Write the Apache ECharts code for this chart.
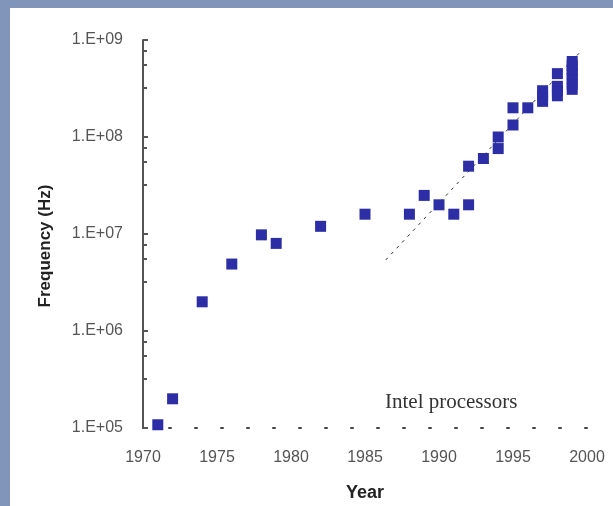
<!DOCTYPE html>
<html>
<head>
<meta charset="utf-8">
<script src="https://cdn.jsdelivr.net/npm/echarts@6/dist/echarts.min.js"></script>
<style>
  html, body { margin: 0; padding: 0; width: 613px; height: 506px; overflow: hidden; background: #8195bb; }
  #panel { position: absolute; left: 10px; top: 8px; width: 603px; height: 498px; background: #ffffff; }
  #chart { position: absolute; left: 0; top: 0; width: 613px; height: 506px; }
</style>
</head>
<body>
<div id="panel"></div>
<div id="chart"></div>
<script>
// Intel processors: year and clock frequency (Hz)
const years = [1971, 1972, 1974, 1976, 1978, 1979, 1982, 1985, 1988, 1989, 1990, 1991, 1992, 1992, 1993, 1994, 1994, 1995, 1995, 1996,
               1997, 1997, 1997, 1998, 1998, 1998, 1998, 1999, 1999, 1999, 1999, 1999, 1999, 1999];
const freqs = [1.08e5, 2e5, 2e6, 4.9e6, 9.8e6, 8e6, 1.2e7, 1.6e7, 1.6e7, 2.5e7, 2e7, 1.6e7, 2e7, 5e7, 6e7, 7.6e7, 1e8, 1.33e8, 2e8, 2e8,
               2.33e8, 2.66e8, 3e8, 2.66e8, 3e8, 3.33e8, 4.5e8, 3.1e8, 3.5e8, 4e8, 4.5e8, 5e8, 5.5e8, 6e8];
// trend line end points
const trendYears = [1986.4, 1999.5];
const trendFreqs = [5.4e6, 7.4e8];
const xTicks = [1970, 1975, 1980, 1985, 1990, 1995, 2000];
const yTickLabels = ['1.E+05', '1.E+06', '1.E+07', '1.E+08', '1.E+09'];

const chart = echarts.init(document.getElementById('chart'), null, { renderer: 'canvas' });
const labelFont = { color: '#555', fontSize: 16, fontFamily: 'Liberation Sans, Arial, sans-serif' };

chart.setOption({
  backgroundColor: 'transparent',
  animation: false,
  grid: { left: 143, right: 26, top: 40, bottom: 78, containLabel: false },
  xAxis: {
    type: 'value', min: xTicks[0], max: xTicks[xTicks.length - 1], interval: 5,
    axisLine: { show: true, onZero: false, lineStyle: { color: '#444', width: 2, type: [2, 24] } },
    axisTick: { show: false },
    splitLine: { show: false },
    axisLabel: Object.assign({ margin: 22, formatter: v => String(v) }, labelFont)
  },
  yAxis: {
    type: 'log', logBase: 10, min: 1e5, max: 1e9,
    axisLine: { show: true, lineStyle: { color: '#555', width: 2 } },
    axisTick: { show: true, inside: true, length: 5, lineStyle: { color: '#555', width: 2 } },
    minorTick: { show: true, splitNumber: 4, length: 4, lineStyle: { color: '#555', width: 2 } },
    splitLine: { show: false },
    axisLabel: Object.assign({
      margin: 20,
      formatter: v => {
        const e = Math.round(Math.log10(v));
        return yTickLabels[e - 5] || '';
      }
    }, labelFont)
  },
  series: [
    {
      type: 'line',
      data: trendYears.map((y, i) => [y, trendFreqs[i]]),
      symbol: 'none',
      lineStyle: { color: '#333', width: 1, type: [3, 5] },
      z: 1
    },
    {
      type: 'scatter',
      data: years.map((y, i) => [y, freqs[i]]),
      symbol: 'rect',
      symbolSize: 11,
      itemStyle: { color: '#2d2da6', borderWidth: 0, opacity: 1 },
      z: 3
    }
  ],
  graphic: [
    {
      type: 'text', x: 45, y: 246, rotation: Math.PI / 2,
      style: { text: 'Frequency (Hz)', fill: '#222', font: 'bold 17px "Liberation Sans", Arial, sans-serif',
               align: 'center', verticalAlign: 'middle' }
    },
    {
      type: 'text', x: 365, y: 493,
      style: { text: 'Year', fill: '#222', font: 'bold 18px "Liberation Sans", Arial, sans-serif',
               align: 'center', verticalAlign: 'middle' }
    },
    {
      type: 'text', x: 385, y: 402,
      style: { text: 'Intel processors', fill: '#333', font: '21px "Liberation Serif", "Times New Roman", serif',
               align: 'left', verticalAlign: 'middle' }
    }
  ]
});
</script>
</body>
</html>
